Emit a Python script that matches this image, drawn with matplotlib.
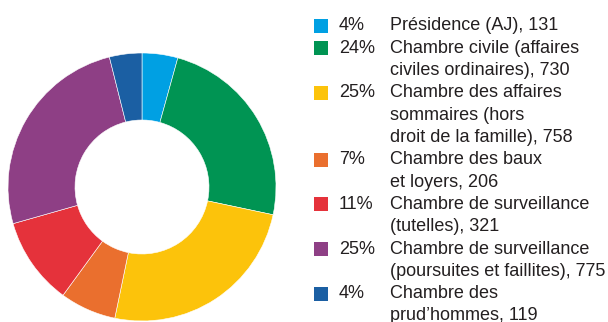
import matplotlib
matplotlib.use("Agg")
import matplotlib.pyplot as plt
from matplotlib.patches import Rectangle

# Affaires par chambre
labels = [
    ["Présidence (AJ), 131"],
    ["Chambre civile (affaires", "civiles ordinaires), 730"],
    ["Chambre des affaires", "sommaires (hors", "droit de la famille), 758"],
    ["Chambre des baux", "et loyers, 206"],
    ["Chambre de surveillance", "(tutelles), 321"],
    ["Chambre de surveillance", "(poursuites et faillites), 775"],
    ["Chambre des", "prud\u2019hommes, 119"],
]
values = [131, 730, 758, 206, 321, 775, 119]
colors = ["#00A0E3", "#009453", "#FCC30B", "#EA6F2E", "#E5323B", "#8E3F85", "#1B5FA3"]

W, H = 608, 322
fig = plt.figure(figsize=(W / 100, H / 100), dpi=100)
plt.rcParams['font.family'] = ['Liberation Sans', 'DejaVu Sans']

# donut
cx, cy, r = 142, 187, 134
ax = fig.add_axes([(cx - r) / W, (H - cy - r) / H, 2 * r / W, 2 * r / H])
ax.pie(values, colors=colors, startangle=90, counterclock=False, radius=1,
       wedgeprops=dict(width=0.5, edgecolor="white", linewidth=0.4))
ax.set_xlim(-1, 1)
ax.set_ylim(-1, 1)
ax.set_aspect("equal")
ax.axis("off")

# legend
total = sum(values)
text_color = "#231F20"
y0, step = 26, 22.3
line = 0
for lab, v, c in zip(labels, values, colors):
    yc = y0 + line * step
    fig.patches.append(Rectangle((314 / W, (H - yc - 7) / H), 14 / W, 14 / H,
                                 transform=fig.transFigure, facecolor=c,
                                 edgecolor="none"))
    fig.text(339 / W, (H - yc) / H, f"{round(100 * v / total)}%", fontsize=13,
             color=text_color, va="center", ha="left")
    for part in lab:
        fig.text(390 / W, (H - (y0 + line * step)) / H, part, fontsize=13,
                 color=text_color, va="center", ha="left")
        line += 1

fig.savefig("out.png", dpi=100)
